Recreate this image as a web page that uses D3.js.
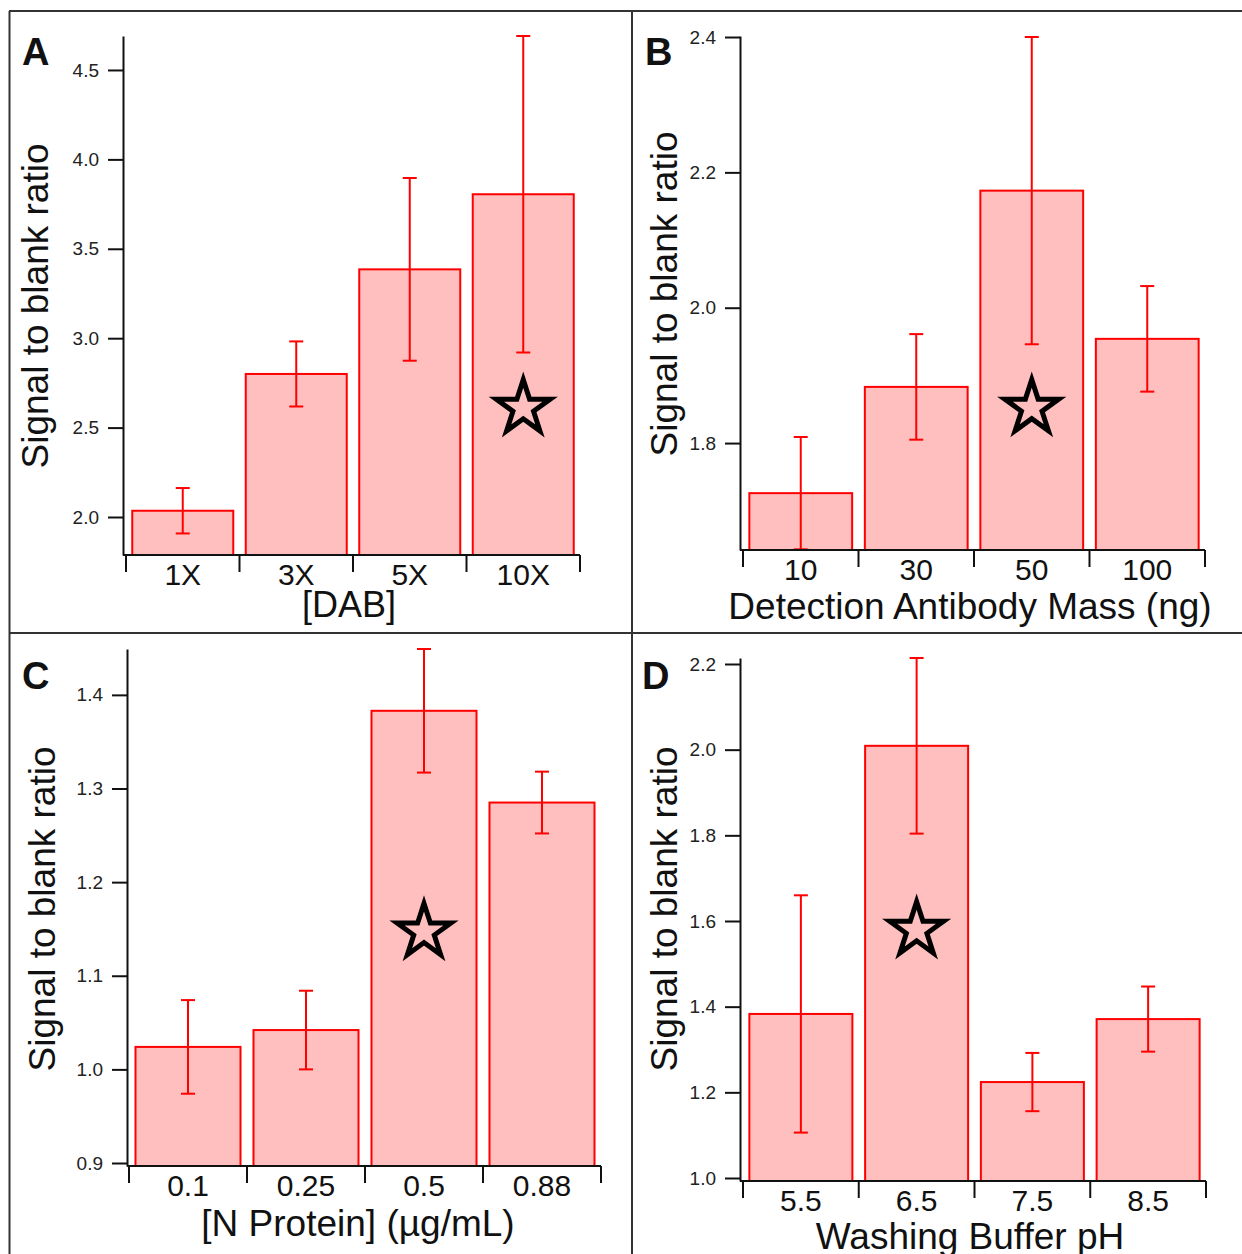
<!DOCTYPE html>
<html lang="en">
<head>
   <meta charset="UTF-8">
   <title>Signal to blank ratio panels</title>
   <style>
      html, body {
         margin: 0;
         padding: 0;
         background: #fff;
      }

      text {
         font-family: 'Liberation Sans', Arial, sans-serif;
         fill: #111;
      }

      .bar {
         fill: #ffbfbf;
         stroke: #ff0000;
         stroke-width: 2;
      }

      .err {
         stroke: #ff0000;
         stroke-width: 2;
      }

      .axis path, .axis line, .bound {
         stroke: #111;
         stroke-width: 2;
      }

      .frame {
         stroke: #333;
         stroke-width: 2;
      }

      .star {
         fill: none;
         stroke: #000;
         stroke-width: 5;
         stroke-linejoin: miter;
      }
   </style>
   <script src="https://cdn.jsdelivr.net/npm/d3@7"></script>
</head>
<body>
   <svg id="chart" width="1242" height="1254"></svg>
   <script>
      // data: A - [DAB]
      const dabCats = ['1X', '3X', '5X', '10X']
      const dabMeans = [2.035, 2.80, 3.385, 3.805]
      const dabErrs = [0.127, 0.182, 0.511, 0.885]
      const dabTicks = [2.0, 2.5, 3.0, 3.5, 4.0, 4.5]

      // B - detection antibody mass (ng)
      const abCats = ['10', '30', '50', '100']
      const abMeans = [1.726, 1.883, 2.173, 1.954]
      const abErrs = [0.083, 0.078, 0.227, 0.078]
      const abTicks = [1.8, 2.0, 2.2, 2.4]

      // C - [N Protein] (µg/mL)
      const protCats = ['0.1', '0.25', '0.5', '0.88']
      const protMeans = [1.024, 1.042, 1.383, 1.285]
      const protErrs = [0.050, 0.042, 0.066, 0.033]
      const protTicks = [0.9, 1.0, 1.1, 1.2, 1.3, 1.4]

      // D - washing buffer pH
      const phCats = ['5.5', '6.5', '7.5', '8.5']
      const phMeans = [1.383, 2.009, 1.224, 1.371]
      const phErrs = [0.277, 0.205, 0.068, 0.076]
      const phTicks = [1.0, 1.2, 1.4, 1.6, 1.8, 2.0, 2.2]

      // chosen condition (star) per panel
      const bestCats = ['10X', '50', '0.5', '6.5']
      const starLevels = [2.61, 1.852, 1.147, 1.579]

      const panels = [
         { letter: 'A', cats: dabCats, means: dabMeans, errs: dabErrs, ticks: dabTicks,
           title: '[DAB]', titleSize: 36, domain: [1.7875, 4.69],
           ax: 123, top: 36, bottom: 555, xr: [126, 580],
           lx: 22, ly: 65, ylx: 48, yly: 306, tx: 349, ty: 617 },
         { letter: 'B', cats: abCats, means: abMeans, errs: abErrs, ticks: abTicks,
           title: 'Detection Antibody Mass (ng)', titleSize: 37, domain: [1.642, 2.4015],
           ax: 740, top: 36, bottom: 550, xr: [743, 1205],
           lx: 645, ly: 65, ylx: 677, yly: 294, tx: 970, ty: 619 },
         { letter: 'C', cats: protCats, means: protMeans, errs: protErrs, ticks: protTicks,
           title: '[N Protein] (µg/mL)', titleSize: 37, domain: [0.8968, 1.449],
           ax: 127, top: 649, bottom: 1166, xr: [129, 601],
           lx: 22, ly: 689, ylx: 55, yly: 909, tx: 358, ty: 1236 },
         { letter: 'D', cats: phCats, means: phMeans, errs: phErrs, ticks: phTicks,
           title: 'Washing Buffer pH', titleSize: 37, domain: [0.993, 2.214],
           ax: 740, top: 658, bottom: 1181, xr: [743, 1206],
           lx: 642, ly: 689, ylx: 677, yly: 909, tx: 970, ty: 1249 }
      ]

      const svg = d3.select('#chart')

      panels.forEach((p, i) => {
         const g = svg.append('g')

         const x = d3.scaleBand()
            .domain(p.cats)
            .range(p.xr)
            .paddingInner(0.11)
            .paddingOuter(0.055)

         const y = d3.scaleLinear()
            .domain(p.domain)
            .range([p.bottom, p.top])

         const rows = p.cats.map((c, k) => ({ cat: c, mean: p.means[k], err: p.errs[k] }))

         // bars
         g.selectAll('.bar')
            .data(rows)
            .enter()
            .append('rect')
            .attr('class', 'bar')
            .attr('x', d => x(d.cat))
            .attr('width', x.bandwidth())
            .attr('y', d => y(d.mean))
            .attr('height', d => y(p.domain[0]) - y(d.mean))

         // error bars
         const eb = g.selectAll('.eb')
            .data(rows)
            .enter()
            .append('g')
            .attr('transform', d => `translate(${x(d.cat) + x.bandwidth() / 2}, 0)`)

         eb.append('line')
            .attr('class', 'err')
            .attr('y1', d => y(d.mean - d.err))
            .attr('y2', d => y(d.mean + d.err))
         eb.append('line')
            .attr('class', 'err')
            .attr('x1', -7).attr('x2', 7)
            .attr('y1', d => y(d.mean + d.err))
            .attr('y2', d => y(d.mean + d.err))
         eb.append('line')
            .attr('class', 'err')
            .attr('x1', -7).attr('x2', 7)
            .attr('y1', d => y(d.mean - d.err))
            .attr('y2', d => y(d.mean - d.err))

         // star on the chosen condition
         g.append('path')
            .attr('class', 'star')
            .attr('d', d3.symbol().type(d3.symbolStar).size(900)())
            .attr('transform', `translate(${x(bestCats[i]) + x.bandwidth() / 2}, ${y(starLevels[i])})`)

         // y axis
         const yAxis = d3.axisLeft(y)
            .tickValues(p.ticks)
            .tickSize(15)
            .tickSizeOuter(0)
            .tickPadding(9)
            .tickFormat(d3.format('.1f'))

         const yg = g.append('g')
            .attr('class', 'axis')
            .attr('transform', `translate(${p.ax}, 0)`)
            .call(yAxis)
         yg.selectAll('text')
            .style('font-size', '19px')
            .style('fill', '#222')

         // x axis: labels at band centres, ticks on band boundaries
         const xAxis = d3.axisBottom(x)
            .tickSize(0)
            .tickSizeOuter(0)
            .tickPadding(9)

         const xg = g.append('g')
            .attr('class', 'axis')
            .attr('transform', `translate(0, ${p.bottom})`)
            .call(xAxis)
         xg.select('.domain')
            .attr('d', `M${p.ax},0H${p.xr[1]}`)
         xg.selectAll('text')
            .style('font-size', '30px')

         xg.selectAll('.bound')
            .data(d3.range(p.cats.length + 1))
            .enter()
            .append('line')
            .attr('class', 'bound')
            .attr('x1', k => x.range()[0] + k * x.step())
            .attr('x2', k => x.range()[0] + k * x.step())
            .attr('y1', 0)
            .attr('y2', 17)

         // titles
         g.append('text')
            .attr('x', p.tx)
            .attr('y', p.ty)
            .attr('text-anchor', 'middle')
            .style('font-size', p.titleSize + 'px')
            .text(p.title)

         g.append('text')
            .attr('transform', `translate(${p.ylx}, ${p.yly}) rotate(-90)`)
            .attr('text-anchor', 'middle')
            .style('font-size', '37px')
            .text('Signal to blank ratio')

         g.append('text')
            .attr('x', p.lx)
            .attr('y', p.ly)
            .style('font-size', '38px')
            .style('font-weight', 'bold')
            .text(p.letter)
      })

      // panel frames
      const frames = [
         [9, 11, 1242, 11],
         [9, 633, 1242, 633],
         [9.5, 11, 9.5, 1254],
         [632, 11, 632, 1254]
      ]
      svg.selectAll('.frame')
         .data(frames)
         .enter()
         .append('line')
         .attr('class', 'frame')
         .attr('x1', d => d[0]).attr('y1', d => d[1])
         .attr('x2', d => d[2]).attr('y2', d => d[3])
   </script>
</body>
</html>
